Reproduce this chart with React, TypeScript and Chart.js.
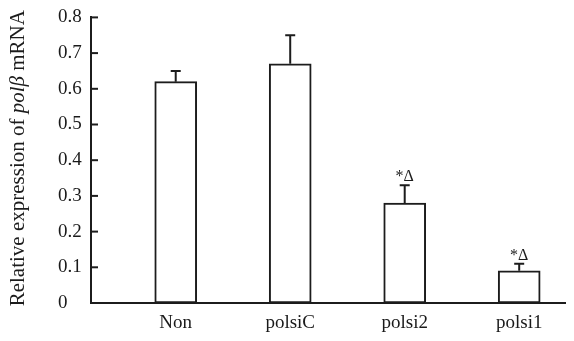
import React, { useEffect, useRef } from "react";
import { Chart, registerables } from "chart.js";

Chart.register(...registerables);

const categories = ["Non", "polsiC", "polsi2", "polsi1"];
const means = [0.62, 0.67, 0.28, 0.09];
const errors = [0.03, 0.08, 0.05, 0.02];
const marks = ["", "", "*Δ", "*Δ"];
const yTicks = [0, 0.1, 0.2, 0.3, 0.4, 0.5, 0.6, 0.7, 0.8];

const INK = "#1c1c1c";
const SERIF = "'Liberation Serif', 'Times New Roman', serif";

const overlay = {
  id: "overlay",
  afterDatasetsDraw(chart: any) {
    const ctx = chart.ctx;
    const xs = chart.scales.x;
    const ys = chart.scales.y;
    const area = chart.chartArea;
    ctx.save();
    ctx.strokeStyle = INK;
    ctx.lineWidth = 2;
    // inward y ticks
    yTicks.forEach((v) => {
      const py = ys.getPixelForValue(v);
      ctx.beginPath();
      ctx.moveTo(area.left, py);
      ctx.lineTo(area.left + 7, py);
      ctx.stroke();
    });
    // error bars
    means.forEach((m, i) => {
      const px = xs.getPixelForValue(i + 1);
      const top = ys.getPixelForValue(m);
      const et = ys.getPixelForValue(m + errors[i]);
      ctx.beginPath();
      ctx.moveTo(px, top);
      ctx.lineTo(px, et);
      ctx.moveTo(px - 5, et);
      ctx.lineTo(px + 5, et);
      ctx.stroke();
      if (marks[i]) {
        ctx.fillStyle = INK;
        ctx.font = `16px ${SERIF}`;
        ctx.textAlign = "center";
        ctx.textBaseline = "alphabetic";
        ctx.fillText(marks[i], px, et - 4);
      }
    });
    // y title with italic part
    const parts = [
      { t: "Relative expression of ", f: `21px ${SERIF}` },
      { t: "polβ", f: `italic 21px ${SERIF}` },
      { t: " mRNA", f: `21px ${SERIF}` },
    ];
    let total = 0;
    parts.forEach((p) => {
      ctx.font = p.f;
      total += ctx.measureText(p.t).width;
    });
    const cy = (area.top + area.bottom) / 2 - 2;
    ctx.translate(18, cy);
    ctx.rotate(-Math.PI / 2);
    ctx.fillStyle = INK;
    ctx.textBaseline = "middle";
    ctx.textAlign = "left";
    let x = -total / 2;
    parts.forEach((p) => {
      ctx.font = p.f;
      ctx.fillText(p.t, x, 0);
      x += ctx.measureText(p.t).width;
    });
    ctx.restore();
  },
};

export default function App() {
  const ref = useRef<HTMLCanvasElement | null>(null);
  useEffect(() => {
    document.body.style.margin = "0";
    const chart = new Chart(ref.current as HTMLCanvasElement, {
      type: "bar",
      data: {
        datasets: [
          {
            data: means.map((m, i) => ({ x: i + 1, y: m })),
            backgroundColor: "#ffffff",
            borderColor: INK,
            borderWidth: 2,
            borderSkipped: false,
            barThickness: 42,
          },
        ],
      },
      options: {
        animation: false,
        responsive: true,
        maintainAspectRatio: false,
        layout: { padding: { left: 58, top: 15, right: 9, bottom: 0 } },
        plugins: { legend: { display: false }, tooltip: { enabled: false } },
        scales: {
          x: {
            type: "linear",
            offset: false,
            min: 0.26,
            max: 4.4,
            grid: { display: false, offset: false },
            border: { color: INK, width: 2 },
            afterBuildTicks: (s: any) => {
              s.ticks = categories.map((_, i) => ({ value: i + 1 }));
            },
            afterFit: (s: any) => {
              s.height = 38;
            },
            ticks: {
              autoSkip: false,
              maxRotation: 0,
              padding: 1,
              color: "#1a1a1a",
              font: { family: SERIF, size: 19 },
              callback: (v: any) => categories[Math.round(Number(v)) - 1] ?? "",
            },
          },
          y: {
            min: 0,
            max: 0.8,
            grid: { display: false },
            border: { color: INK, width: 2 },
            afterBuildTicks: (s: any) => {
              s.ticks = yTicks.map((v) => ({ value: v }));
            },
            afterFit: (s: any) => {
              s.width = 33;
            },
            ticks: {
              crossAlign: "far",
              padding: 6,
              color: "#1a1a1a",
              font: { family: SERIF, size: 19 },
              callback: (v: any) => (Number(v) === 0 ? "0" : Number(v).toFixed(1)),
            },
          },
        },
      },
      plugins: [overlay],
    } as any);
    return () => chart.destroy();
  }, []);
  return (
    <div style={{ position: "fixed", left: 0, top: 0, width: 574, height: 341, background: "#fff" }}>
      <canvas ref={ref} />
    </div>
  );
}
